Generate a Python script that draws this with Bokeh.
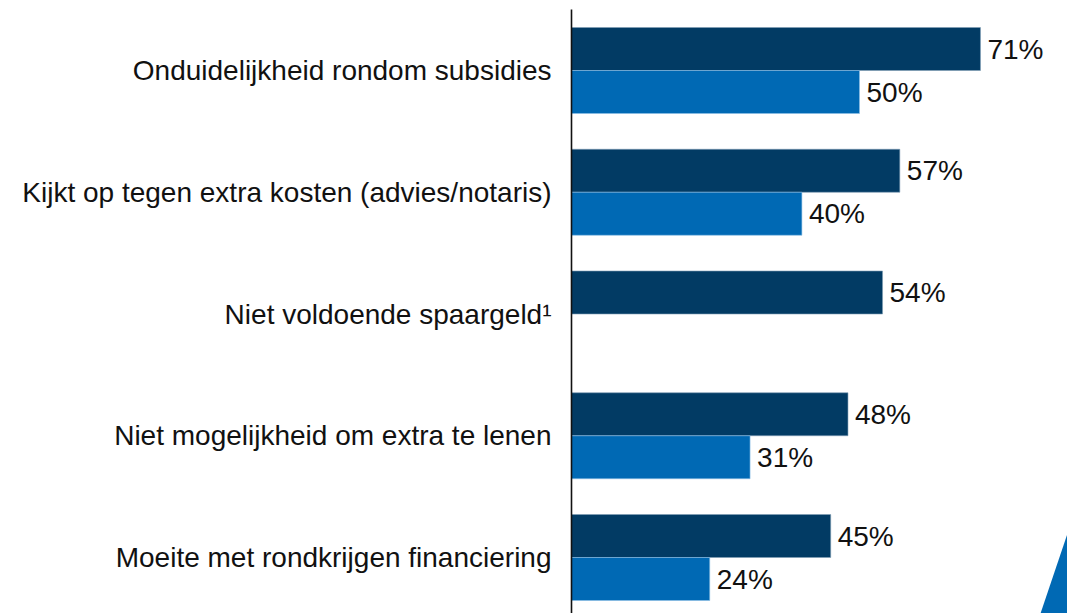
from bokeh.plotting import figure
from bokeh.models import Range1d, ColumnDataSource, Span
from bokeh.core.properties import value
from bokeh.embed import file_html
from bokeh.resources import INLINE

# ---- data ----
categories = [
    "Onduidelijkheid rondom subsidies",
    "Kijkt op tegen extra kosten (advies/notaris)",
    "Niet voldoende spaargeld\u00b9",
    "Niet mogelijkheid om extra te lenen",
    "Moeite met rondkrijgen financiering",
]
series_dark = [71, 57, 54, 48, 45]
series_light = [50, 40, None, 31, 24]

# ---- layout constants (pixels within the figure) ----
W, H = 1067, 613
ZERO_PX = 571.0          # x pixel of value 0
PX_PER_UNIT = 5.76       # pixels per percentage point
FIRST_BOUNDARY = 70.0    # y pixel between the two bars of the first group
GROUP_STEP = 121.75
BAR_H = 43.0
FONT = value("Liberation Sans")
DARK = "#023B64"
LIGHT = "#0069B4"

p = figure(width=W, height=H, output_backend="svg", toolbar_location=None,
           x_range=Range1d(-ZERO_PX / PX_PER_UNIT, (W - ZERO_PX) / PX_PER_UNIT),
           y_range=Range1d(H, 0), min_border=0)
p.xaxis.visible = False
p.yaxis.visible = False
p.xgrid.visible = False
p.ygrid.visible = False
p.outline_line_color = None
p.background_fill_color = "white"

bounds = [FIRST_BOUNDARY + i * GROUP_STEP for i in range(len(categories))]

dark_src = ColumnDataSource(dict(
    y=[b - BAR_H / 2 for b in bounds],
    v=series_dark,
    lab=[f"{v}%" for v in series_dark],
))
li = [i for i, v in enumerate(series_light) if v is not None]
light_src = ColumnDataSource(dict(
    y=[bounds[i] + BAR_H / 2 for i in li],
    v=[series_light[i] for i in li],
    lab=[f"{series_light[i]}%" for i in li],
))

p.hbar(y="y", left=0, right="v", height=BAR_H, source=dark_src,
       fill_color=DARK, line_color="#7F9DB5", line_width=0.6)
p.hbar(y="y", left=0, right="v", height=BAR_H, source=light_src,
       fill_color=LIGHT, line_color="#8CC0E6", line_width=0.6)

for src in (dark_src, light_src):
    p.text(x="v", y="y", text="lab", source=src, x_offset=7,
           text_align="left", text_baseline="middle",
           text_font=FONT, text_font_size="28px", text_color="#111111")

cat_src = ColumnDataSource(dict(y=bounds, lab=categories))
p.text(x=-20 / PX_PER_UNIT, y="y", text="lab", source=cat_src,
       text_align="right", text_baseline="middle",
       text_font=FONT, text_font_size="28px", text_color="#111111")

p.segment(x0=0, y0=9, x1=0, y1=H, line_color="#111111", line_width=1.6)

# decorative triangle at bottom right
tri_px = [(1067, 533), (1040, 613), (1067, 613)]
p.patch(x=[(px - ZERO_PX) / PX_PER_UNIT for px, _ in tri_px],
        y=[py for _, py in tri_px], fill_color=LIGHT, line_color=None)

open("out.html", "w").write(file_html(p, INLINE))
